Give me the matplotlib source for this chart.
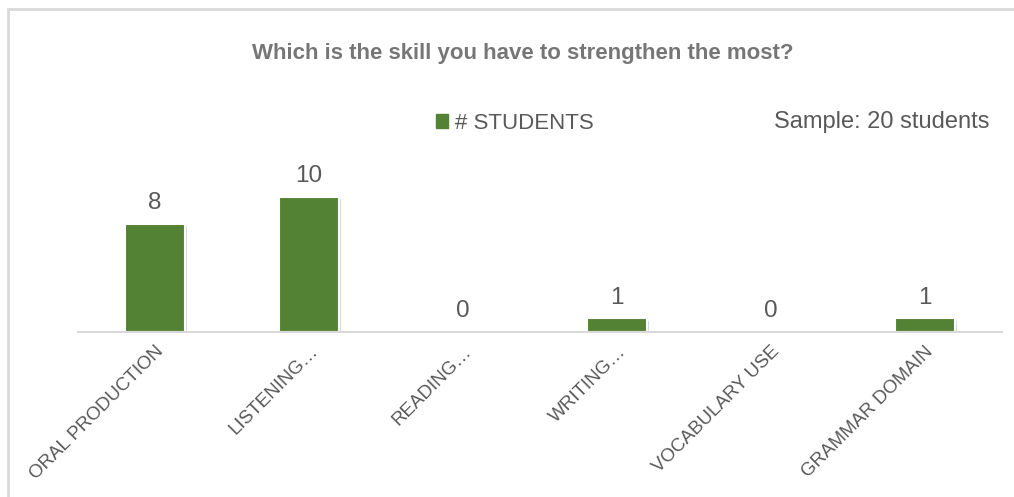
import matplotlib.pyplot as plt
import matplotlib.patheffects as pe
from matplotlib.patches import Rectangle, Patch

plt.rcParams["font.family"] = ["Liberation Sans", "DejaVu Sans"]

skills = ["ORAL PRODUCTION", "LISTENING…", "READING…", "WRITING…",
          "VOCABULARY USE", "GRAMMAR DOMAIN"]
students = [8, 10, 0, 1, 0, 1]
series_name = "# STUDENTS"
title = "Which is the skill you have to strengthen the most?"
note = "Sample: 20 students"

green = "#548235"
text_gray = "#595959"
title_gray = "#767676"
line_gray = "#d9d9d9"

fig = plt.figure(figsize=(10.14, 4.97), dpi=100)
ax = fig.add_axes([0.077, 0.332, 0.911, 0.326])

x = range(len(skills))
bars = ax.bar(x, students, width=0.39, color=green, edgecolor="white",
              linewidth=1.5, zorder=2)
for b, v in zip(bars, students):
    if v == 0:
        b.set_linewidth(0)
    b.set_path_effects([pe.SimplePatchShadow(offset=(1.5, -1.5), shadow_rgbFace="#bfbfbf", alpha=0.6),
                        pe.Normal()])

ax.bar_label(bars, labels=[str(v) for v in students], padding=7,
             fontsize=17.5, color=text_gray)

ax.set_xlim(-0.5, len(skills) - 0.5)
ax.set_ylim(0, 12)
ax.set_yticks([])
for s in ["top", "right", "left"]:
    ax.spines[s].set_visible(False)
ax.spines["bottom"].set_color(line_gray)
ax.spines["bottom"].set_linewidth(1.5)
ax.spines["bottom"].set_zorder(3)
ax.set_xticks(list(x))
ax.set_xticklabels(skills, rotation=45, ha="right", rotation_mode="anchor",
                   fontsize=13.5, color=text_gray)
ax.tick_params(axis="x", length=0, pad=8)

fig.text(0.516, 0.893, title, ha="center", va="center", fontsize=16,
         fontweight="bold", color=title_gray)

legend_handles = [Patch(color=green, label=series_name)]
fig.legend(handles=legend_handles, loc="center left", bbox_to_anchor=(0.41, 0.752),
           frameon=False, fontsize=16, handlelength=0.55, handleheight=0.55,
           handletextpad=0.3, labelcolor=text_gray)

fig.text(0.976, 0.754, note, ha="right", va="center", fontsize=17, color=text_gray)

# light chart frame (cropped at right and bottom)
fig.patches.append(Rectangle((7.5 / 1014, -0.05), 1.1, 0.05 + (497 - 8.5) / 497,
                             transform=fig.transFigure, fill=False,
                             edgecolor=line_gray, linewidth=2))

fig.savefig("out.png", dpi=100)
